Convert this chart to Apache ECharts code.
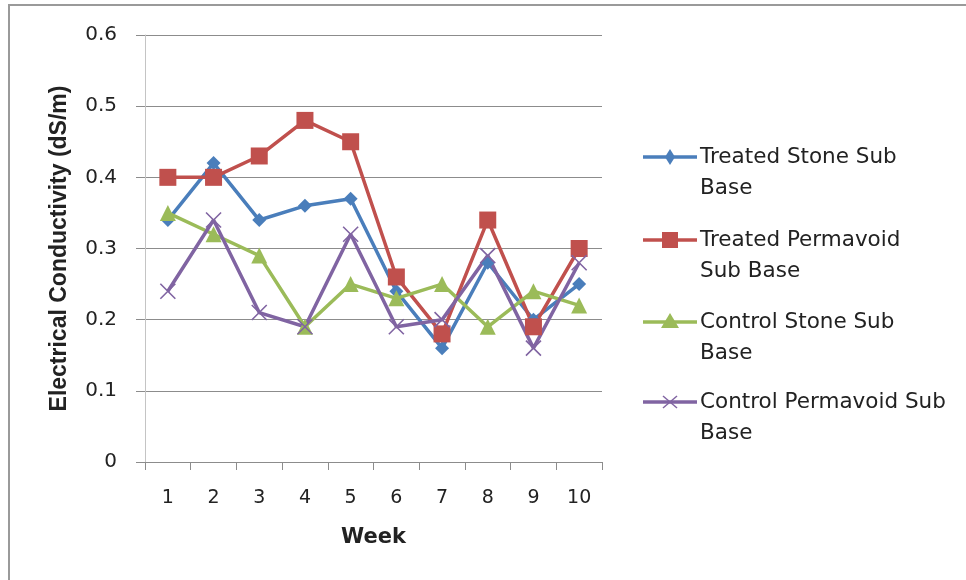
<!DOCTYPE html>
<html>
<head>
<meta charset="utf-8">
<script src="https://cdn.jsdelivr.net/npm/echarts@6/dist/echarts.min.js"></script>
<style>
  html, body { margin: 0; padding: 0; background: #fff; }
  #chart { width: 966px; height: 580px; }
</style>
</head>
<body>
<div id="chart"></div>
<script>
// Weekly electrical conductivity readings (dS/m)
const weeks = ['1', '2', '3', '4', '5', '6', '7', '8', '9', '10'];
const treatedStone     = [0.34, 0.42, 0.34, 0.36, 0.37, 0.24, 0.16, 0.28, 0.20, 0.25];
const treatedPermavoid = [0.40, 0.40, 0.43, 0.48, 0.45, 0.26, 0.18, 0.34, 0.19, 0.30];
const controlStone     = [0.35, 0.32, 0.29, 0.19, 0.25, 0.23, 0.25, 0.19, 0.24, 0.22];
const controlPermavoid = [0.24, 0.34, 0.21, 0.19, 0.32, 0.19, 0.20, 0.29, 0.16, 0.28];

const yTicks = [0, 0.1, 0.2, 0.3, 0.4, 0.5, 0.6];

const FONT = '"DejaVu Sans", "Liberation Sans", sans-serif';
const NAME_FONT = '"Liberation Sans", Arial, sans-serif';
const crossPath = 'path://M0,0 L10,10 M10,0 L0,10';

const seriesDefs = [
  { name: 'Treated Stone Sub\nBase', data: treatedStone, color: '#4A7EBB', symbol: 'diamond', size: 14 },
  { name: 'Treated Permavoid\nSub Base', data: treatedPermavoid, color: '#C0504D', symbol: 'rect', size: 17 },
  { name: 'Control Stone Sub\nBase', data: controlStone, color: '#9BBB59', symbol: 'triangle', size: 16 },
  { name: 'Control Permavoid Sub\nBase', data: controlPermavoid, color: '#8064A2', symbol: crossPath, size: 15 }
];

const chart = echarts.init(document.getElementById('chart'));

// Hand-built legend: a short line with the marker, text wrapped on two lines
const legendGraphics = [];
const legendTop = [157, 240, 322, 402];
seriesDefs.forEach((s, i) => {
  const y = legendTop[i];
  legendGraphics.push({
    type: 'line', shape: { x1: 643, y1: y, x2: 697, y2: y },
    style: { stroke: s.color, lineWidth: 3.5 }, silent: true
  });
  if (s.symbol === crossPath) {
    legendGraphics.push({ type: 'polyline', shape: { points: [[663, y - 6], [677, y + 6]] }, style: { stroke: s.color, lineWidth: 1.5 } });
    legendGraphics.push({ type: 'polyline', shape: { points: [[663, y + 6], [677, y - 6]] }, style: { stroke: s.color, lineWidth: 1.5 } });
  } else if (s.symbol === 'diamond') {
    legendGraphics.push({ type: 'polygon', shape: { points: [[670, y - 8], [675, y], [670, y + 8], [665, y]] }, style: { fill: s.color } });
  } else if (s.symbol === 'rect') {
    legendGraphics.push({ type: 'rect', shape: { x: 662, y: y - 8, width: 16, height: 16 }, style: { fill: s.color } });
  } else {
    legendGraphics.push({ type: 'polygon', shape: { points: [[670, y - 9], [679, y + 6], [661, y + 6]] }, style: { fill: s.color } });
  }
  legendGraphics.push({
    type: 'text', left: 700, top: y - 15.5,
    style: { text: s.name, font: '21.5px ' + FONT, fill: '#222', lineHeight: 31 }
  });
});

chart.setOption({
  animation: false,
  backgroundColor: '#fff',
  textStyle: { fontFamily: FONT },
  grid: { left: 145, right: 364, top: 35, bottom: 118, containLabel: false },
  xAxis: {
    type: 'category',
    data: weeks,
    boundaryGap: true,
    name: 'Week',
    nameLocation: 'middle',
    nameGap: 65,
    nameTextStyle: { fontSize: 21, fontWeight: 'bold', color: '#222', fontFamily: FONT },
    axisLine: { lineStyle: { color: '#8c8c8c', width: 1 } },
    axisTick: { show: true, length: 8, lineStyle: { color: '#8c8c8c' } },
    axisLabel: { fontSize: 19, color: '#222', margin: 27, fontFamily: FONT },
    splitLine: { show: false }
  },
  yAxis: {
    type: 'value',
    min: yTicks[0],
    max: yTicks[yTicks.length - 1],
    interval: 0.1,
    name: 'Electrical Conductivity (dS/m)',
    nameLocation: 'middle',
    nameGap: 74,
    nameTextStyle: { fontSize: 23, fontWeight: 'bold', color: '#222', fontFamily: NAME_FONT },
    axisLine: { show: true, lineStyle: { color: '#c4c4c4', width: 1 } },
    axisTick: { show: true, length: 9, lineStyle: { color: '#8c8c8c' } },
    axisLabel: { fontSize: 20, color: '#222', margin: 28, fontFamily: FONT },
    splitLine: { show: true, lineStyle: { color: '#8c8c8c', width: 1 } }
  },
  series: seriesDefs.map(s => ({
    name: s.name,
    type: 'line',
    data: s.data,
    symbol: s.symbol,
    symbolSize: s.size,
    showAllSymbol: true,
    lineStyle: { color: s.color, width: 3.5 },
    itemStyle: s.symbol === crossPath
      ? { color: s.color, borderColor: s.color, borderWidth: 1.6 }
      : { color: s.color },
    emphasis: { disabled: true }
  })),
  graphic: [
    // outer frame of the chart area (top and left edges in view)
    { type: 'polyline', shape: { points: [[9, 600], [9, 5], [990, 5]] }, style: { stroke: '#9a9a9a', lineWidth: 2, fill: null }, silent: true },
    ...legendGraphics
  ]
});
</script>
</body>
</html>
